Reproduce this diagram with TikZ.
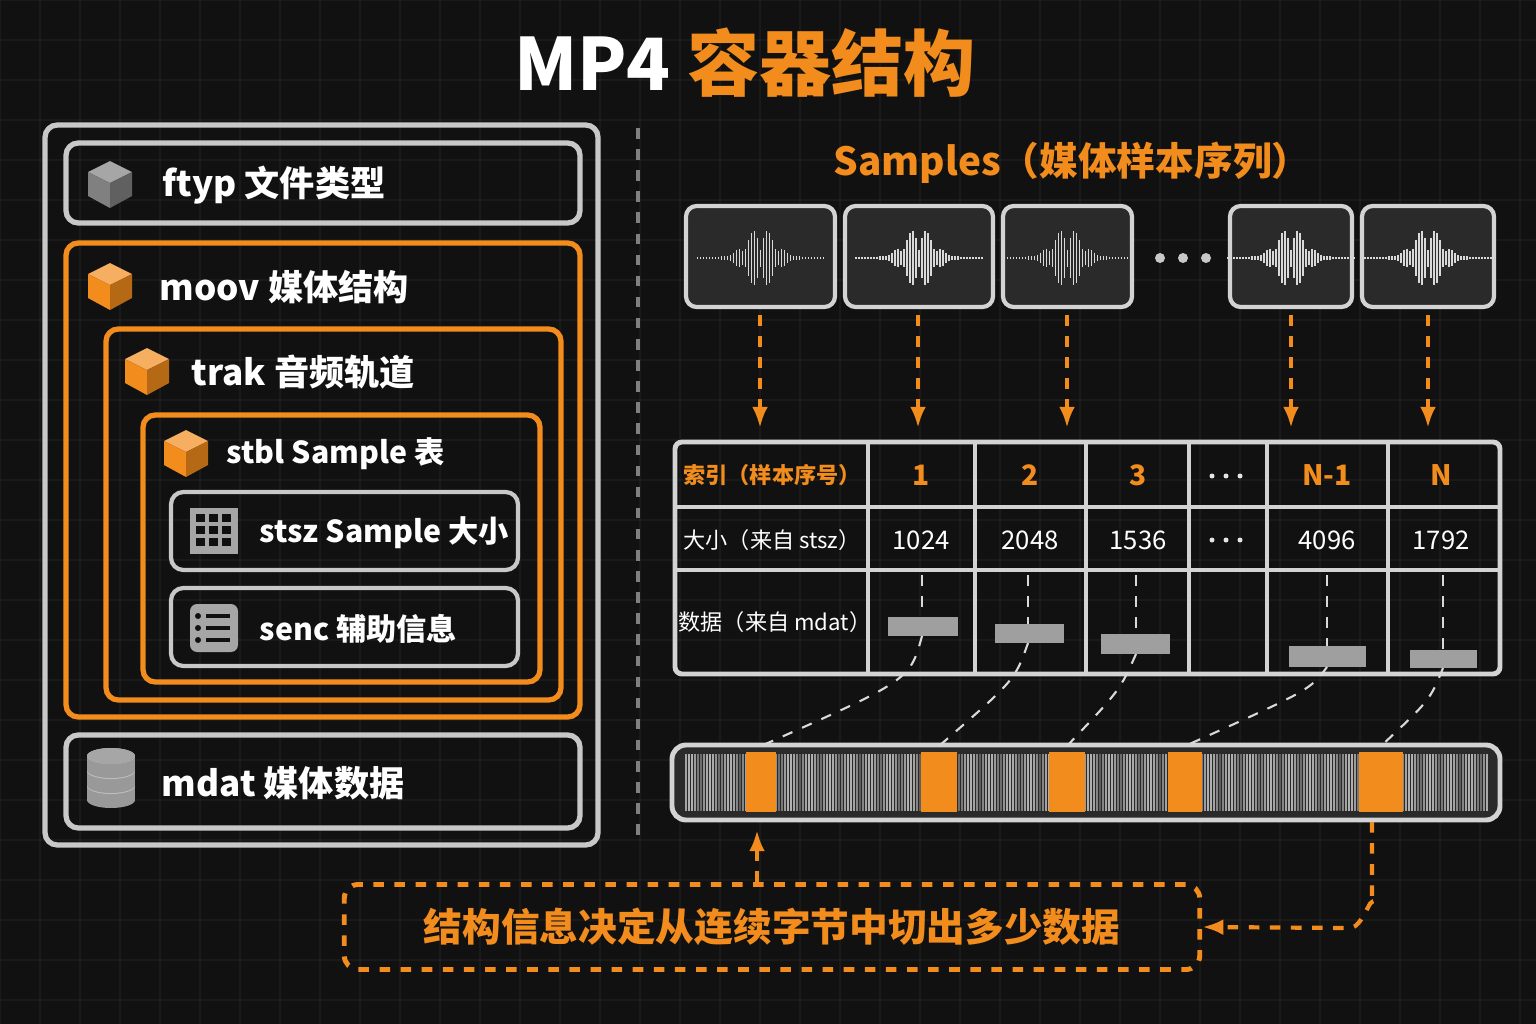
\documentclass[tikz,border=0pt]{standalone}
\usepackage{fontspec}
\setmainfont{Noto Sans CJK SC}
\usetikzlibrary{positioning,calc,arrows.meta}
\definecolor{bg}{HTML}{111111}
\definecolor{org}{HTML}{F28C1C}
\definecolor{lgray}{HTML}{C8C8C8}
\definecolor{cell}{HTML}{2A2A2A}
\tikzset{
  box/.style={draw=lgray,line width=1.5pt,rounded corners=3.5pt},
  obox/.style={draw=org,line width=1.5pt,rounded corners=3.5pt},
  lab/.style={text=white,font=\fontsize{10}{12}\selectfont\bfseries,anchor=west,inner sep=0pt},
  slab/.style={lab,font=\fontsize{8.6}{10}\selectfont\bfseries},
  tab/.style={text=white,font=\fontsize{6.3}{8}\selectfont},
  otab/.style={text=org,font=\fontsize{8}{10}\selectfont\bfseries},
  darr/.style={org,dashed,line width=1.2pt,-{Latex[length=6pt]}},
  link/.style={white!85!black,dashed,line width=0.6pt},
}
% cube icon
\newcommand\cubeicon[3]{%
  \fill[#3!70!white] (#1,#2-22) -- (#1+22,#2-11) -- (#1,#2) -- (#1-22,#2-11) -- cycle;
  \fill[#3] (#1-22,#2-11) -- (#1,#2) -- (#1,#2+25) -- (#1-22,#2+13) -- cycle;
  \fill[#3!75!black] (#1+22,#2-11) -- (#1,#2) -- (#1,#2+25) -- (#1+22,#2+13) -- cycle;}
% waveform
\newcommand\waveicon[2]{%
  \foreach \i in {-63,-60,...,63}{
    \pgfmathsetmacro\h{1+30*exp(-(\i/20)^2)*(0.25+0.75*abs(sin(\i*131)))}
    \draw[white!85!black,line width=0.35pt] (#1+\i,#2-\h) -- (#1+\i,#2+\h);}}
\begin{document}
\begin{tikzpicture}[x=0.01cm,y=-0.01cm]
\fill[bg] (0,0) rectangle (1536,1024);
\useasboundingbox (0,0) rectangle (1536,1024);
\foreach \g in {0,40,...,1536} \draw[white,opacity=0.04] (\g,0) -- (\g,1024);
\foreach \g in {0,40,...,1024} \draw[white,opacity=0.04] (0,\g) -- (1536,\g);

% title
\node (title) at (745,63) {\fontsize{20.5}{24}\selectfont\bfseries\textcolor{white}{MP4} \textcolor{org}{容器结构}};

% left panel
\draw[box] (45,125) rectangle (598,845);
\draw[box] (66,143) rectangle (580,223);
\cubeicon{110}{183}{gray}
\node[lab] (ftypl) at (162,185) {ftyp 文件类型};
\draw[obox] (66,243) rectangle (580,717);
\cubeicon{110}{285}{org}
\node[lab] (moovl) at (159,287) {moov 媒体结构};
\draw[obox] (106,329) rectangle (561,700);
\cubeicon{147}{370}{org}
\node[lab] (trakl) at (191,372) {trak 音频轨道};
\draw[obox] (143,415) rectangle (540,682);
\cubeicon{186}{452}{org}
\node[slab] (stbll) at (226,454) {stbl Sample 表};
\draw[box,line width=1.2pt] (171,492) rectangle (518,570);
\fill[gray!70] (190,508) rectangle (238,554);
\foreach \a in {0,1,2} \foreach \b in {0,1,2} \fill[bg] (196+\a*13,514+\b*12) rectangle (205+\a*13,522+\b*12);
\node[slab] (stszl) at (259,533) {stsz Sample 大小};
\draw[box,line width=1.2pt] (171,588) rectangle (518,666);
\fill[gray!70,rounded corners=2pt] (190,604) rectangle (238,652);
\foreach \b in {0,1,2} {\fill[bg] (198,616+\b*12) circle (3); \fill[bg] (206,614+\b*12) rectangle (230,618+\b*12);}
\node[slab] (sencl) at (259,629) {senc 辅助信息};
\draw[box] (66,735) rectangle (580,828);
\foreach \y in {800,785,770} {\fill[gray!80] (87,\y-14) rectangle (135,\y); \fill[gray!80] (111,\y) ellipse (24 and 8); \fill[gray!50] (111,\y-14) ellipse (24 and 8);}
\fill[gray!70] (111,756) ellipse (24 and 8);
\node[lab] (mdatl) at (161,783) {mdat 媒体数据};

\draw[white!50!black,dashed,line width=1pt] (638,128) -- (638,845);

% samples
\node[text=org,font=\fontsize{11}{13}\selectfont\bfseries] (samp) at (1072,163) {Samples（媒体样本序列）};
\foreach \n/\a/\b in {s1/686/835,s2/845/993,s3/1003/1132,s4/1230/1352,s5/1362/1494}{
  \pgfmathsetmacro\cx{(\a+\b)/2}
  \fill[cell,rounded corners=3pt] (\a,206) rectangle (\b,307);
  \draw[lgray!80,line width=1.2pt,rounded corners=3pt] (\a,206) rectangle (\b,307);
  \coordinate (\n) at (\cx,258);
  \waveicon{\cx}{258}}
\foreach \x in {1160,1183,1206} \fill[lgray] (\x,258) circle (5);
\foreach \x/\n in {760/a1,918/a2,1067/a3,1291/a4,1428/a5}{
  \coordinate (\n t) at (\x,315); \coordinate (\n b) at (\x,428);
  \draw[darr] (\n t) -- (\n b);}

% table
\draw[lgray!80,line width=1.4pt,rounded corners=2pt] (675,442) rectangle (1500,674);
\foreach \x in {868,975,1086,1189,1267,1388} \draw[lgray!80,line width=1.2pt] (\x,442) -- (\x,674);
\foreach \y in {507,570} \draw[lgray!80,line width=1.2pt] (675,\y) -- (1500,\y);
\node[otab,font=\fontsize{6.3}{8}\selectfont\bfseries] (h0) at (772,475) {索引（样本序号）};
\node[tab] (r0) at (772,540) {大小（来自 stsz）};
\node[tab] (d0) at (775,622) {数据（来自 mdat）};
\foreach \x/\t/\s in {921/1/1024,1030/2/2048,1138/3/1536,1327/N-1/4096,1441/N/1792}{
  \node[otab] at (\x,475) {\t};
  \node[tab,font=\fontsize{7.3}{9}\selectfont] at (\x,540) {\s};}
\foreach \y in {476,540} \foreach \x in {1212,1226,1240} \fill[white!90!black] (\x,\y) circle (2.5);
\foreach \n/\a/\b/\t/\u/\c in {b1/888/958/617/636/922,b2/995/1064/624/643/1028,b3/1101/1170/634/654/1136,b4/1289/1366/646/667/1327,b5/1410/1477/650/668/1443}{
  \fill[gray!75] (\a,\t) rectangle (\b,\u);
  \coordinate (\n) at (\c,\u);
  \draw[link] (\c,575) -- (\c,\t);}

% byte strip
\fill[cell,rounded corners=4pt] (672,745) rectangle (1500,820);
\foreach \x in {686,689,...,1488}{
  \pgfmathsetmacro\o{0.25+0.4*abs(sin(\x*9))}
  \draw[white,opacity=\o,line width=0.45pt] (\x,754) -- (\x,811);}
\foreach \n/\a/\b in {c1/746/776,c2/921/957,c3/1049/1085,c4/1168/1202,c5/1359/1403}{
  \pgfmathsetmacro\cx{(\a+\b)/2}
  \fill[org] (\a,752) rectangle (\b,812);
  \coordinate (\n) at (\cx,746);}
\draw[lgray!80,line width=1.4pt,rounded corners=4pt] (672,745) rectangle (1500,820);
\draw[link] (b1) .. controls (910,680) .. (c1);
\draw[link] (b2) .. controls (1015,680) .. (c2);
\draw[link] (b3) .. controls (1120,690) .. (c3);
\draw[link] (b4) .. controls (1310,690) .. (c4);
\draw[link] (b5) .. controls (1430,700) .. (c5);

% note
\node[draw=org,dashed,line width=1.4pt,rounded corners=4pt,text=org,
  font=\fontsize{11}{13}\selectfont\bfseries,inner sep=0pt,
  minimum height=0.85cm,minimum width=8.55cm] (note) at (772,927) {结构信息决定从连续字节中切出多少数据};
\coordinate (up) at (757,830);
\coordinate (dn) at (1372,822);
\draw[darr] (note.north -| up) -- (up);
\draw[darr] (dn) -- (1372,905) to[out=90,in=0] (1350,928) -- (note.east);
\end{tikzpicture}
\end{document}
